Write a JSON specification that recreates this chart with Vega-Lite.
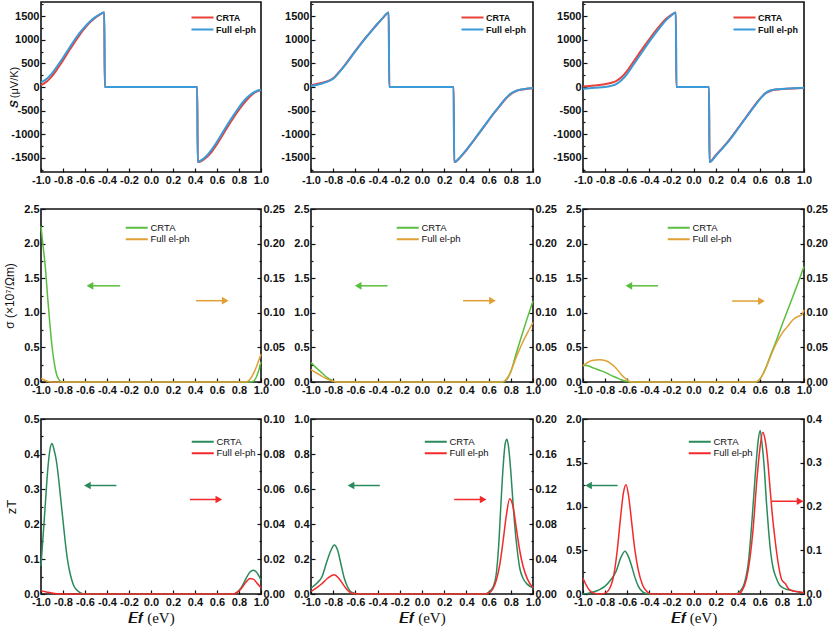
{
  "$schema": "https://vega.github.io/schema/vega-lite/v6.json",
  "background": "white",
  "padding": {"left": 2, "top": -3, "right": 0, "bottom": 0},
  "config": {
    "locale": {"number": {"decimal": ".", "thousands": ",", "grouping": [3], "currency": ["$", ""], "minus": "-"}},
    "view": {"stroke": "#111", "strokeWidth": 1.6},
    "axis": {
      "domain": false, "grid": false, "ticks": true, "tickSize": -4, "tickWidth": 1.2, "tickColor": "#111",
      "labelPadding": 6, "labelFont": "Liberation Sans", "labelFontSize": 11, "labelFontWeight": "bold",
      "labelColor": "#111", "labelFlush": false, "labelOverlap": false,
      "titleFont": "Liberation Sans", "titleFontWeight": "normal", "titleFontSize": 12, "titleColor": "#111"
    },
    "legend": {
      "symbolType": "M-10,0H1", "symbolSize": 16, "symbolStrokeWidth": 2, "labelOffset": 0,
      "labelFont": "Liberation Sans", "labelFontSize": 9.5, "labelColor": "#111", "rowPadding": 0.5, "padding": 0
    }
  },
  "datasets": {
    "s": [
      {"p":"a","x":-1,"CRTA":40,"Full el-ph":100},{"p":"a","x":-0.95,"CRTA":110,"Full el-ph":170},{"p":"a","x":-0.9,"CRTA":230,"Full el-ph":290},
      {"p":"a","x":-0.85,"CRTA":390,"Full el-ph":450},{"p":"a","x":-0.8,"CRTA":560,"Full el-ph":620},{"p":"a","x":-0.75,"CRTA":750,"Full el-ph":800},
      {"p":"a","x":-0.7,"CRTA":930,"Full el-ph":980},{"p":"a","x":-0.65,"CRTA":1100,"Full el-ph":1140},{"p":"a","x":-0.6,"CRTA":1250,"Full el-ph":1280},
      {"p":"a","x":-0.55,"CRTA":1380,"Full el-ph":1400},{"p":"a","x":-0.5,"CRTA":1480,"Full el-ph":1490},{"p":"a","x":-0.45,"CRTA":1555,"Full el-ph":1560},
      {"p":"a","x":-0.425,"CRTA":1580,"Full el-ph":1585},{"p":"a","x":-0.42,"CRTA":0,"Full el-ph":0},{"p":"a","x":0.42,"CRTA":0,"Full el-ph":0},
      {"p":"a","x":0.425,"CRTA":-1590,"Full el-ph":-1590},{"p":"a","x":0.45,"CRTA":-1580,"Full el-ph":-1560},{"p":"a","x":0.5,"CRTA":-1500,"Full el-ph":-1470},
      {"p":"a","x":0.55,"CRTA":-1380,"Full el-ph":-1330},{"p":"a","x":0.6,"CRTA":-1210,"Full el-ph":-1160},{"p":"a","x":0.65,"CRTA":-1020,"Full el-ph":-970},
      {"p":"a","x":0.7,"CRTA":-830,"Full el-ph":-780},{"p":"a","x":0.75,"CRTA":-650,"Full el-ph":-600},{"p":"a","x":0.8,"CRTA":-480,"Full el-ph":-430},
      {"p":"a","x":0.85,"CRTA":-330,"Full el-ph":-280},{"p":"a","x":0.9,"CRTA":-200,"Full el-ph":-170},{"p":"a","x":0.95,"CRTA":-110,"Full el-ph":-95},
      {"p":"a","x":1,"CRTA":-65,"Full el-ph":-60},
      {"p":"b","x":-1,"CRTA":40,"Full el-ph":20},{"p":"b","x":-0.9,"CRTA":90,"Full el-ph":75},{"p":"b","x":-0.85,"CRTA":125,"Full el-ph":115},
      {"p":"b","x":-0.8,"CRTA":185,"Full el-ph":175},{"p":"b","x":-0.75,"CRTA":310,"Full el-ph":300},{"p":"b","x":-0.7,"CRTA":450,"Full el-ph":440},
      {"p":"b","x":-0.65,"CRTA":605,"Full el-ph":600},{"p":"b","x":-0.6,"CRTA":765,"Full el-ph":760},{"p":"b","x":-0.55,"CRTA":920,"Full el-ph":915},
      {"p":"b","x":-0.5,"CRTA":1065,"Full el-ph":1060},{"p":"b","x":-0.45,"CRTA":1205,"Full el-ph":1200},{"p":"b","x":-0.4,"CRTA":1340,"Full el-ph":1340},
      {"p":"b","x":-0.35,"CRTA":1470,"Full el-ph":1470},{"p":"b","x":-0.3,"CRTA":1580,"Full el-ph":1580},{"p":"b","x":-0.295,"CRTA":0,"Full el-ph":0},
      {"p":"b","x":0.285,"CRTA":0,"Full el-ph":0},{"p":"b","x":0.29,"CRTA":-1590,"Full el-ph":-1590},{"p":"b","x":0.35,"CRTA":-1475,"Full el-ph":-1470},
      {"p":"b","x":0.4,"CRTA":-1335,"Full el-ph":-1330},{"p":"b","x":0.45,"CRTA":-1185,"Full el-ph":-1180},{"p":"b","x":0.5,"CRTA":-1025,"Full el-ph":-1020},
      {"p":"b","x":0.55,"CRTA":-865,"Full el-ph":-860},{"p":"b","x":0.6,"CRTA":-705,"Full el-ph":-700},{"p":"b","x":0.65,"CRTA":-550,"Full el-ph":-545},
      {"p":"b","x":0.7,"CRTA":-405,"Full el-ph":-400},{"p":"b","x":0.75,"CRTA":-260,"Full el-ph":-250},{"p":"b","x":0.8,"CRTA":-150,"Full el-ph":-140},
      {"p":"b","x":0.85,"CRTA":-85,"Full el-ph":-80},{"p":"b","x":0.9,"CRTA":-55,"Full el-ph":-50},{"p":"b","x":0.95,"CRTA":-35,"Full el-ph":-30},
      {"p":"b","x":1,"CRTA":-25,"Full el-ph":-20},
      {"p":"c","x":-1,"CRTA":10,"Full el-ph":-40},{"p":"c","x":-0.9,"CRTA":30,"Full el-ph":-15},{"p":"c","x":-0.8,"CRTA":60,"Full el-ph":0},
      {"p":"c","x":-0.75,"CRTA":85,"Full el-ph":20},{"p":"c","x":-0.7,"CRTA":125,"Full el-ph":60},{"p":"c","x":-0.65,"CRTA":210,"Full el-ph":150},
      {"p":"c","x":-0.6,"CRTA":340,"Full el-ph":280},{"p":"c","x":-0.55,"CRTA":510,"Full el-ph":450},{"p":"c","x":-0.5,"CRTA":680,"Full el-ph":620},
      {"p":"c","x":-0.45,"CRTA":850,"Full el-ph":790},{"p":"c","x":-0.4,"CRTA":1010,"Full el-ph":960},{"p":"c","x":-0.35,"CRTA":1165,"Full el-ph":1120},
      {"p":"c","x":-0.3,"CRTA":1310,"Full el-ph":1270},{"p":"c","x":-0.25,"CRTA":1440,"Full el-ph":1410},{"p":"c","x":-0.2,"CRTA":1530,"Full el-ph":1515},
      {"p":"c","x":-0.16,"CRTA":1580,"Full el-ph":1580},{"p":"c","x":-0.155,"CRTA":0,"Full el-ph":0},{"p":"c","x":0.14,"CRTA":0,"Full el-ph":0},
      {"p":"c","x":0.145,"CRTA":-1590,"Full el-ph":-1590},{"p":"c","x":0.2,"CRTA":-1450,"Full el-ph":-1460},{"p":"c","x":0.25,"CRTA":-1320,"Full el-ph":-1330},
      {"p":"c","x":0.3,"CRTA":-1190,"Full el-ph":-1200},{"p":"c","x":0.35,"CRTA":-1040,"Full el-ph":-1050},{"p":"c","x":0.4,"CRTA":-880,"Full el-ph":-890},
      {"p":"c","x":0.45,"CRTA":-720,"Full el-ph":-730},{"p":"c","x":0.5,"CRTA":-560,"Full el-ph":-570},{"p":"c","x":0.55,"CRTA":-400,"Full el-ph":-410},
      {"p":"c","x":0.6,"CRTA":-250,"Full el-ph":-260},{"p":"c","x":0.65,"CRTA":-135,"Full el-ph":-135},{"p":"c","x":0.7,"CRTA":-80,"Full el-ph":-70},
      {"p":"c","x":0.75,"CRTA":-55,"Full el-ph":-50},{"p":"c","x":0.8,"CRTA":-45,"Full el-ph":-40},{"p":"c","x":0.9,"CRTA":-30,"Full el-ph":-28},
      {"p":"c","x":1,"CRTA":-20,"Full el-ph":-15}
    ],
    "g": [
      {"p":"a","x":-1,"c":2.25},{"p":"a","x":-0.98,"c":1.95},{"p":"a","x":-0.96,"c":1.65},{"p":"a","x":-0.94,"c":1.23},{"p":"a","x":-0.92,"c":0.85},
      {"p":"a","x":-0.9,"c":0.52},{"p":"a","x":-0.88,"c":0.28},{"p":"a","x":-0.86,"c":0.12},{"p":"a","x":-0.84,"c":0.04},{"p":"a","x":-0.82,"c":0.01},
      {"p":"a","x":-0.8,"c":0},{"p":"a","x":0.9,"c":0},{"p":"a","x":0.93,"c":0.01},{"p":"a","x":0.96,"c":0.08},{"p":"a","x":0.98,"c":0.17},{"p":"a","x":1,"c":0.29},
      {"p":"a","x":-1,"f":0.005},{"p":"a","x":-0.95,"f":0.0015},{"p":"a","x":-0.9,"f":0},{"p":"a","x":0.86,"f":0},{"p":"a","x":0.9,"f":0.004},
      {"p":"a","x":0.94,"f":0.015},{"p":"a","x":0.97,"f":0.027},{"p":"a","x":1,"f":0.04},
      {"p":"b","x":-1,"c":0.28},{"p":"b","x":-0.95,"c":0.2},{"p":"b","x":-0.9,"c":0.13},{"p":"b","x":-0.85,"c":0.06},{"p":"b","x":-0.8,"c":0.015},
      {"p":"b","x":-0.78,"c":0},{"p":"b","x":0.72,"c":0},{"p":"b","x":0.76,"c":0.03},{"p":"b","x":0.8,"c":0.15},{"p":"b","x":0.85,"c":0.42},
      {"p":"b","x":0.9,"c":0.68},{"p":"b","x":0.95,"c":0.93},{"p":"b","x":1,"c":1.17},
      {"p":"b","x":-1,"f":0.018},{"p":"b","x":-0.95,"f":0.013},{"p":"b","x":-0.9,"f":0.008},{"p":"b","x":-0.85,"f":0.004},{"p":"b","x":-0.8,"f":0.001},
      {"p":"b","x":-0.76,"f":0},{"p":"b","x":0.72,"f":0},{"p":"b","x":0.76,"f":0.004},{"p":"b","x":0.8,"f":0.015},{"p":"b","x":0.85,"f":0.036},
      {"p":"b","x":0.9,"f":0.055},{"p":"b","x":0.95,"f":0.071},{"p":"b","x":1,"f":0.086},
      {"p":"c","x":-1,"c":0.25},{"p":"c","x":-0.95,"c":0.23},{"p":"c","x":-0.9,"c":0.2},{"p":"c","x":-0.85,"c":0.17},{"p":"c","x":-0.8,"c":0.14},
      {"p":"c","x":-0.75,"c":0.1},{"p":"c","x":-0.7,"c":0.065},{"p":"c","x":-0.65,"c":0.03},{"p":"c","x":-0.6,"c":0.008},{"p":"c","x":-0.56,"c":0},
      {"p":"c","x":0.56,"c":0},{"p":"c","x":0.6,"c":0.04},{"p":"c","x":0.65,"c":0.19},{"p":"c","x":0.7,"c":0.4},{"p":"c","x":0.75,"c":0.6},
      {"p":"c","x":0.8,"c":0.82},{"p":"c","x":0.85,"c":1.03},{"p":"c","x":0.9,"c":1.24},{"p":"c","x":0.95,"c":1.45},{"p":"c","x":1,"c":1.67},
      {"p":"c","x":-1,"f":0.023},{"p":"c","x":-0.96,"f":0.028},{"p":"c","x":-0.92,"f":0.031},{"p":"c","x":-0.85,"f":0.032},{"p":"c","x":-0.8,"f":0.031},
      {"p":"c","x":-0.75,"f":0.027},{"p":"c","x":-0.7,"f":0.02},{"p":"c","x":-0.65,"f":0.01},{"p":"c","x":-0.6,"f":0.003},{"p":"c","x":-0.56,"f":0},
      {"p":"c","x":0.56,"f":0},{"p":"c","x":0.6,"f":0.004},{"p":"c","x":0.65,"f":0.018},{"p":"c","x":0.7,"f":0.038},{"p":"c","x":0.75,"f":0.056},
      {"p":"c","x":0.8,"f":0.07},{"p":"c","x":0.85,"f":0.08},{"p":"c","x":0.9,"f":0.09},{"p":"c","x":0.95,"f":0.095},{"p":"c","x":0.98,"f":0.097},
      {"p":"c","x":1,"f":0.104}
    ],
    "z": [
      {"p":"a","x":-1,"c":0.08},{"p":"a","x":-0.98,"c":0.17},{"p":"a","x":-0.96,"c":0.26},{"p":"a","x":-0.94,"c":0.35},{"p":"a","x":-0.92,"c":0.41},
      {"p":"a","x":-0.9,"c":0.43},{"p":"a","x":-0.88,"c":0.41},{"p":"a","x":-0.86,"c":0.38},{"p":"a","x":-0.84,"c":0.33},{"p":"a","x":-0.82,"c":0.27},
      {"p":"a","x":-0.8,"c":0.21},{"p":"a","x":-0.78,"c":0.15},{"p":"a","x":-0.76,"c":0.1},{"p":"a","x":-0.74,"c":0.065},{"p":"a","x":-0.72,"c":0.04},
      {"p":"a","x":-0.7,"c":0.022},{"p":"a","x":-0.67,"c":0.01},{"p":"a","x":-0.64,"c":0.003},{"p":"a","x":-0.6,"c":0},{"p":"a","x":0.74,"c":0},
      {"p":"a","x":0.78,"c":0.005},{"p":"a","x":0.82,"c":0.018},{"p":"a","x":0.86,"c":0.042},{"p":"a","x":0.9,"c":0.063},{"p":"a","x":0.93,"c":0.068},
      {"p":"a","x":0.96,"c":0.062},{"p":"a","x":1,"c":0.04},
      {"p":"a","x":-1,"f":0.0018},{"p":"a","x":-0.95,"f":0.0012},{"p":"a","x":-0.9,"f":0.0006},{"p":"a","x":-0.85,"f":0.0002},{"p":"a","x":-0.8,"f":0},
      {"p":"a","x":0.74,"f":0},{"p":"a","x":0.78,"f":0.0008},{"p":"a","x":0.82,"f":0.003},{"p":"a","x":0.86,"f":0.0065},{"p":"a","x":0.9,"f":0.0088},
      {"p":"a","x":0.93,"f":0.0085},{"p":"a","x":0.96,"f":0.0065},{"p":"a","x":1,"f":0.0035},
      {"p":"b","x":-1,"c":0.033},{"p":"b","x":-0.95,"c":0.06},{"p":"b","x":-0.9,"c":0.1},{"p":"b","x":-0.86,"c":0.18},{"p":"b","x":-0.82,"c":0.25},
      {"p":"b","x":-0.79,"c":0.28},{"p":"b","x":-0.76,"c":0.25},{"p":"b","x":-0.73,"c":0.17},{"p":"b","x":-0.7,"c":0.09},{"p":"b","x":-0.67,"c":0.04},
      {"p":"b","x":-0.64,"c":0.013},{"p":"b","x":-0.6,"c":0.003},{"p":"b","x":-0.56,"c":0},{"p":"b","x":0.56,"c":0},{"p":"b","x":0.6,"c":0.01},
      {"p":"b","x":0.64,"c":0.04},{"p":"b","x":0.67,"c":0.12},{"p":"b","x":0.69,"c":0.27},{"p":"b","x":0.71,"c":0.5},{"p":"b","x":0.73,"c":0.72},
      {"p":"b","x":0.75,"c":0.86},{"p":"b","x":0.765,"c":0.885},{"p":"b","x":0.78,"c":0.84},{"p":"b","x":0.8,"c":0.7},{"p":"b","x":0.82,"c":0.52},
      {"p":"b","x":0.84,"c":0.36},{"p":"b","x":0.86,"c":0.24},{"p":"b","x":0.88,"c":0.15},{"p":"b","x":0.91,"c":0.09},{"p":"b","x":0.95,"c":0.055},
      {"p":"b","x":1,"c":0.035},
      {"p":"b","x":-1,"f":0.003},{"p":"b","x":-0.95,"f":0.007},{"p":"b","x":-0.9,"f":0.012},{"p":"b","x":-0.85,"f":0.018},{"p":"b","x":-0.79,"f":0.022},
      {"p":"b","x":-0.75,"f":0.018},{"p":"b","x":-0.7,"f":0.009},{"p":"b","x":-0.66,"f":0.003},{"p":"b","x":-0.62,"f":0.0005},{"p":"b","x":-0.58,"f":0},
      {"p":"b","x":0.56,"f":0},{"p":"b","x":0.6,"f":0.001},{"p":"b","x":0.64,"f":0.006},{"p":"b","x":0.67,"f":0.016},{"p":"b","x":0.7,"f":0.033},
      {"p":"b","x":0.73,"f":0.06},{"p":"b","x":0.76,"f":0.09},{"p":"b","x":0.79,"f":0.109},{"p":"b","x":0.82,"f":0.1},{"p":"b","x":0.85,"f":0.075},
      {"p":"b","x":0.88,"f":0.05},{"p":"b","x":0.91,"f":0.032},{"p":"b","x":0.95,"f":0.017},{"p":"b","x":1,"f":0.007},
      {"p":"c","x":-1,"c":0},{"p":"c","x":-0.95,"c":0.01},{"p":"c","x":-0.9,"c":0.025},{"p":"c","x":-0.85,"c":0.05},{"p":"c","x":-0.8,"c":0.09},
      {"p":"c","x":-0.75,"c":0.16},{"p":"c","x":-0.7,"c":0.26},{"p":"c","x":-0.66,"c":0.41},{"p":"c","x":-0.62,"c":0.49},{"p":"c","x":-0.59,"c":0.43},
      {"p":"c","x":-0.56,"c":0.32},{"p":"c","x":-0.53,"c":0.19},{"p":"c","x":-0.5,"c":0.09},{"p":"c","x":-0.46,"c":0.025},{"p":"c","x":-0.42,"c":0.004},
      {"p":"c","x":-0.38,"c":0},{"p":"c","x":0.38,"c":0},{"p":"c","x":0.42,"c":0.03},{"p":"c","x":0.46,"c":0.12},{"p":"c","x":0.5,"c":0.4},
      {"p":"c","x":0.53,"c":0.85},{"p":"c","x":0.56,"c":1.38},{"p":"c","x":0.585,"c":1.75},{"p":"c","x":0.603,"c":1.87},{"p":"c","x":0.62,"c":1.72},
      {"p":"c","x":0.64,"c":1.45},{"p":"c","x":0.66,"c":1.05},{"p":"c","x":0.68,"c":0.72},{"p":"c","x":0.7,"c":0.46},{"p":"c","x":0.72,"c":0.3},
      {"p":"c","x":0.75,"c":0.18},{"p":"c","x":0.78,"c":0.1},{"p":"c","x":0.82,"c":0.065},{"p":"c","x":0.87,"c":0.045},{"p":"c","x":0.92,"c":0.03},
      {"p":"c","x":0.96,"c":0.02},{"p":"c","x":1,"c":0.012},
      {"p":"c","x":-1,"f":0.036},{"p":"c","x":-0.97,"f":0.02},{"p":"c","x":-0.94,"f":0.008},{"p":"c","x":-0.9,"f":0.002},{"p":"c","x":-0.86,"f":0},
      {"p":"c","x":-0.8,"f":0.002},{"p":"c","x":-0.76,"f":0.012},{"p":"c","x":-0.72,"f":0.045},{"p":"c","x":-0.69,"f":0.1},{"p":"c","x":-0.66,"f":0.175},
      {"p":"c","x":-0.635,"f":0.23},{"p":"c","x":-0.61,"f":0.25},{"p":"c","x":-0.585,"f":0.22},{"p":"c","x":-0.56,"f":0.165},{"p":"c","x":-0.53,"f":0.1},
      {"p":"c","x":-0.5,"f":0.055},{"p":"c","x":-0.46,"f":0.02},{"p":"c","x":-0.42,"f":0.005},{"p":"c","x":-0.38,"f":0},{"p":"c","x":0.4,"f":0},
      {"p":"c","x":0.44,"f":0.008},{"p":"c","x":0.48,"f":0.035},{"p":"c","x":0.51,"f":0.08},{"p":"c","x":0.54,"f":0.15},{"p":"c","x":0.57,"f":0.25},
      {"p":"c","x":0.6,"f":0.33},{"p":"c","x":0.627,"f":0.37},{"p":"c","x":0.65,"f":0.35},{"p":"c","x":0.67,"f":0.31},{"p":"c","x":0.69,"f":0.25},
      {"p":"c","x":0.71,"f":0.19},{"p":"c","x":0.74,"f":0.12},{"p":"c","x":0.77,"f":0.065},{"p":"c","x":0.8,"f":0.032},{"p":"c","x":0.83,"f":0.024},
      {"p":"c","x":0.86,"f":0.012},{"p":"c","x":0.9,"f":0.007},{"p":"c","x":0.95,"f":0.005},{"p":"c","x":1,"f":0.003}
    ]
  },
  "vconcat": [
    {
      "hconcat": [
        {
          "width": 220, "height": 170,
          "data": {"name": "s"},
          "transform": [{"filter": "datum.p == 'a'"}, {"fold": ["CRTA", "Full el-ph"], "as": ["series", "S"]}],
          "mark": {"type": "line", "interpolate": "monotone", "strokeWidth": 2},
          "encoding": {
            "x": {"field": "x", "type": "quantitative", "scale": {"domain": [-1, 1]}, "axis": {"values": [-1, -0.8, -0.6, -0.4, -0.2, 0, 0.2, 0.4, 0.6, 0.8, 1], "format": ".1f", "title": null}},
            "y": {"field": "S", "type": "quantitative", "scale": {"domain": [-1800, 1800]},
              "axis": {"title": "𝑺  (μV/K)", "titleFontSize": 11, "minExtent": 20, "maxExtent": 20, "titlePadding": 2,
                "values": [-1750, -1500, -1250, -1000, -750, -500, -250, 0, 250, 500, 750, 1000, 1250, 1500, 1750], "format": "d",
                "labelExpr": "datum.value % 500 == 0 ? datum.label : ''",
                "tickSize": {"condition": {"test": "datum.value % 500 == 0", "value": -4}, "value": -2}}},
            "color": {"field": "series", "type": "nominal", "scale": {"domain": ["CRTA", "Full el-ph"], "range": ["#e8413a", "#3b9ad8"]},
              "legend": {"orient": "none", "legendX": 166, "legendY": 11, "title": null, "labelFontWeight": "bold", "labelFontSize": 9, "rowPadding": 2}}
          }
        },
        {
          "width": 222, "height": 170,
          "data": {"name": "s"},
          "transform": [{"filter": "datum.p == 'b'"}, {"fold": ["CRTA", "Full el-ph"], "as": ["series", "S"]}],
          "mark": {"type": "line", "interpolate": "monotone", "strokeWidth": 2},
          "encoding": {
            "x": {"field": "x", "type": "quantitative", "scale": {"domain": [-1, 1]}, "axis": {"values": [-1, -0.8, -0.6, -0.4, -0.2, 0, 0.2, 0.4, 0.6, 0.8, 1], "format": ".1f", "title": null}},
            "y": {"field": "S", "type": "quantitative", "scale": {"domain": [-1800, 1800]},
              "axis": {"title": null,
                "values": [-1750, -1500, -1250, -1000, -750, -500, -250, 0, 250, 500, 750, 1000, 1250, 1500, 1750], "format": "d",
                "labelExpr": "datum.value % 500 == 0 ? datum.label : ''",
                "tickSize": {"condition": {"test": "datum.value % 500 == 0", "value": -4}, "value": -2}}},
            "color": {"field": "series", "type": "nominal", "scale": {"domain": ["CRTA", "Full el-ph"], "range": ["#e8413a", "#3b9ad8"]},
              "legend": {"orient": "none", "legendX": 166, "legendY": 11, "title": null, "labelFontWeight": "bold", "labelFontSize": 9, "rowPadding": 2}}
          }
        },
        {
          "width": 221, "height": 170,
          "data": {"name": "s"},
          "transform": [{"filter": "datum.p == 'c'"}, {"fold": ["CRTA", "Full el-ph"], "as": ["series", "S"]}],
          "mark": {"type": "line", "interpolate": "monotone", "strokeWidth": 2},
          "encoding": {
            "x": {"field": "x", "type": "quantitative", "scale": {"domain": [-1, 1]}, "axis": {"values": [-1, -0.8, -0.6, -0.4, -0.2, 0, 0.2, 0.4, 0.6, 0.8, 1], "format": ".1f", "title": null}},
            "y": {"field": "S", "type": "quantitative", "scale": {"domain": [-1800, 1800]},
              "axis": {"title": null,
                "values": [-1750, -1500, -1250, -1000, -750, -500, -250, 0, 250, 500, 750, 1000, 1250, 1500, 1750], "format": "d",
                "labelExpr": "datum.value % 500 == 0 ? datum.label : ''",
                "tickSize": {"condition": {"test": "datum.value % 500 == 0", "value": -4}, "value": -2}}},
            "color": {"field": "series", "type": "nominal", "scale": {"domain": ["CRTA", "Full el-ph"], "range": ["#e8413a", "#3b9ad8"]},
              "legend": {"orient": "none", "legendX": 166, "legendY": 11, "title": null, "labelFontWeight": "bold", "labelFontSize": 9, "rowPadding": 2}}
          }
        }
      ],
      "spacing": 50, "bounds": "flush",
      "resolve": {"scale": {"color": "independent"}, "legend": {"color": "independent"}}
    },
    {
      "hconcat": [
        {
          "width": 220, "height": 173,
          "data": {"name": "g"},
          "transform": [{"filter": "datum.p == 'a'"}],
          "encoding": {"x": {"field": "x", "type": "quantitative", "scale": {"domain": [-1, 1]}, "axis": {"values": [-1, -0.8, -0.6, -0.4, -0.2, 0, 0.2, 0.4, 0.6, 0.8, 1], "format": ".1f", "title": null}}},
          "layer": [
            {
              "encoding": {"y": {"field": "c", "type": "quantitative", "scale": {"domain": [0, 2.5]},
                "axis": {"title": "σ  (×10⁷/Ωm)", "minExtent": 22, "maxExtent": 22, "titlePadding": 3,
                  "values": [0, 0.25, 0.5, 0.75, 1, 1.25, 1.5, 1.75, 2, 2.25, 2.5], "format": ".1f",
                  "labelExpr": "abs(datum.value*2-round(datum.value*2)) < 0.001 ? datum.label : ''",
                  "tickSize": {"condition": {"test": "abs(datum.value*2-round(datum.value*2)) < 0.001", "value": -4}, "value": -2}}}},
              "layer": [
                {"transform": [{"filter": {"field": "c", "valid": true}}], "mark": {"type": "line", "interpolate": "monotone", "strokeWidth": 1.5},
                  "encoding": {"color": {"datum": "CRTA", "scale": {"domain": ["CRTA", "Full el-ph"], "range": ["#5bbd40", "#e0a035"]},
                    "legend": {"orient": "none", "legendX": 100, "legendY": 14, "title": null}}}},
                {"data": {"values": [{"p": "a", "x": -0.555, "t": -0.28, "c": 1.39}]}, "mark": {"type": "rule", "color": "#5bbd40", "strokeWidth": 1.5}, "encoding": {"x2": {"field": "t"}}},
                {"data": {"values": [{"p": "a", "x": -0.555, "c": 1.39}]}, "mark": {"type": "point", "shape": "triangle-left", "filled": true, "size": 60, "color": "#5bbd40", "opacity": 1}}
              ]
            },
            {
              "encoding": {"y": {"field": "f", "type": "quantitative", "scale": {"domain": [0, 0.25]},
                "axis": {"orient": "right", "title": null,
                  "values": [0, 0.025, 0.05, 0.075, 0.1, 0.125, 0.15, 0.175, 0.2, 0.225, 0.25], "format": ".2f",
                  "labelExpr": "abs(datum.value*20-round(datum.value*20)) < 0.001 ? datum.label : ''",
                  "tickSize": {"condition": {"test": "abs(datum.value*20-round(datum.value*20)) < 0.001", "value": -4}, "value": -2}}}},
              "layer": [
                {"transform": [{"filter": {"field": "f", "valid": true}}], "mark": {"type": "line", "interpolate": "monotone", "strokeWidth": 1.5},
                  "encoding": {"color": {"datum": "Full el-ph"}}},
                {"data": {"values": [{"p": "a", "x": 0.675, "t": 0.41, "f": 0.1175}]}, "mark": {"type": "rule", "color": "#e0a035", "strokeWidth": 1.5}, "encoding": {"x2": {"field": "t"}}},
                {"data": {"values": [{"p": "a", "x": 0.675, "f": 0.1175}]}, "mark": {"type": "point", "shape": "triangle-right", "filled": true, "size": 60, "color": "#e0a035", "opacity": 1}}
              ]
            }
          ],
          "resolve": {"scale": {"y": "independent"}}
        },
        {
          "width": 222, "height": 173,
          "data": {"name": "g"},
          "transform": [{"filter": "datum.p == 'b'"}],
          "encoding": {"x": {"field": "x", "type": "quantitative", "scale": {"domain": [-1, 1]}, "axis": {"values": [-1, -0.8, -0.6, -0.4, -0.2, 0, 0.2, 0.4, 0.6, 0.8, 1], "format": ".1f", "title": null}}},
          "layer": [
            {
              "encoding": {"y": {"field": "c", "type": "quantitative", "scale": {"domain": [0, 2.5]},
                "axis": {"title": null,
                  "values": [0, 0.25, 0.5, 0.75, 1, 1.25, 1.5, 1.75, 2, 2.25, 2.5], "format": ".1f",
                  "labelExpr": "abs(datum.value*2-round(datum.value*2)) < 0.001 ? datum.label : ''",
                  "tickSize": {"condition": {"test": "abs(datum.value*2-round(datum.value*2)) < 0.001", "value": -4}, "value": -2}}}},
              "layer": [
                {"transform": [{"filter": {"field": "c", "valid": true}}], "mark": {"type": "line", "interpolate": "monotone", "strokeWidth": 1.5},
                  "encoding": {"color": {"datum": "CRTA", "scale": {"domain": ["CRTA", "Full el-ph"], "range": ["#5bbd40", "#e0a035"]},
                    "legend": {"orient": "none", "legendX": 101, "legendY": 14, "title": null}}}},
                {"data": {"values": [{"p": "b", "x": -0.575, "t": -0.31, "c": 1.39}]}, "mark": {"type": "rule", "color": "#5bbd40", "strokeWidth": 1.5}, "encoding": {"x2": {"field": "t"}}},
                {"data": {"values": [{"p": "b", "x": -0.575, "c": 1.39}]}, "mark": {"type": "point", "shape": "triangle-left", "filled": true, "size": 60, "color": "#5bbd40", "opacity": 1}}
              ]
            },
            {
              "encoding": {"y": {"field": "f", "type": "quantitative", "scale": {"domain": [0, 0.25]},
                "axis": {"orient": "right", "title": null,
                  "values": [0, 0.025, 0.05, 0.075, 0.1, 0.125, 0.15, 0.175, 0.2, 0.225, 0.25], "format": ".2f",
                  "labelExpr": "abs(datum.value*20-round(datum.value*20)) < 0.001 ? datum.label : ''",
                  "tickSize": {"condition": {"test": "abs(datum.value*20-round(datum.value*20)) < 0.001", "value": -4}, "value": -2}}}},
              "layer": [
                {"transform": [{"filter": {"field": "f", "valid": true}}], "mark": {"type": "line", "interpolate": "monotone", "strokeWidth": 1.5},
                  "encoding": {"color": {"datum": "Full el-ph"}}},
                {"data": {"values": [{"p": "b", "x": 0.635, "t": 0.37, "f": 0.1175}]}, "mark": {"type": "rule", "color": "#e0a035", "strokeWidth": 1.5}, "encoding": {"x2": {"field": "t"}}},
                {"data": {"values": [{"p": "b", "x": 0.635, "f": 0.1175}]}, "mark": {"type": "point", "shape": "triangle-right", "filled": true, "size": 60, "color": "#e0a035", "opacity": 1}}
              ]
            }
          ],
          "resolve": {"scale": {"y": "independent"}}
        },
        {
          "width": 221, "height": 173,
          "data": {"name": "g"},
          "transform": [{"filter": "datum.p == 'c'"}],
          "encoding": {"x": {"field": "x", "type": "quantitative", "scale": {"domain": [-1, 1]}, "axis": {"values": [-1, -0.8, -0.6, -0.4, -0.2, 0, 0.2, 0.4, 0.6, 0.8, 1], "format": ".1f", "title": null}}},
          "layer": [
            {
              "encoding": {"y": {"field": "c", "type": "quantitative", "scale": {"domain": [0, 2.5]},
                "axis": {"title": null,
                  "values": [0, 0.25, 0.5, 0.75, 1, 1.25, 1.5, 1.75, 2, 2.25, 2.5], "format": ".1f",
                  "labelExpr": "abs(datum.value*2-round(datum.value*2)) < 0.001 ? datum.label : ''",
                  "tickSize": {"condition": {"test": "abs(datum.value*2-round(datum.value*2)) < 0.001", "value": -4}, "value": -2}}}},
              "layer": [
                {"transform": [{"filter": {"field": "c", "valid": true}}], "mark": {"type": "line", "interpolate": "monotone", "strokeWidth": 1.5},
                  "encoding": {"color": {"datum": "CRTA", "scale": {"domain": ["CRTA", "Full el-ph"], "range": ["#5bbd40", "#e0a035"]},
                    "legend": {"orient": "none", "legendX": 100, "legendY": 14, "title": null}}}},
                {"data": {"values": [{"p": "c", "x": -0.585, "t": -0.32, "c": 1.39}]}, "mark": {"type": "rule", "color": "#5bbd40", "strokeWidth": 1.5}, "encoding": {"x2": {"field": "t"}}},
                {"data": {"values": [{"p": "c", "x": -0.585, "c": 1.39}]}, "mark": {"type": "point", "shape": "triangle-left", "filled": true, "size": 60, "color": "#5bbd40", "opacity": 1}}
              ]
            },
            {
              "encoding": {"y": {"field": "f", "type": "quantitative", "scale": {"domain": [0, 0.25]},
                "axis": {"orient": "right", "title": null,
                  "values": [0, 0.025, 0.05, 0.075, 0.1, 0.125, 0.15, 0.175, 0.2, 0.225, 0.25], "format": ".2f",
                  "labelExpr": "abs(datum.value*20-round(datum.value*20)) < 0.001 ? datum.label : ''",
                  "tickSize": {"condition": {"test": "abs(datum.value*20-round(datum.value*20)) < 0.001", "value": -4}, "value": -2}}}},
              "layer": [
                {"transform": [{"filter": {"field": "f", "valid": true}}], "mark": {"type": "line", "interpolate": "monotone", "strokeWidth": 1.5},
                  "encoding": {"color": {"datum": "Full el-ph"}}},
                {"data": {"values": [{"p": "c", "x": 0.615, "t": 0.35, "f": 0.117}]}, "mark": {"type": "rule", "color": "#e0a035", "strokeWidth": 1.5}, "encoding": {"x2": {"field": "t"}}},
                {"data": {"values": [{"p": "c", "x": 0.615, "f": 0.117}]}, "mark": {"type": "point", "shape": "triangle-right", "filled": true, "size": 60, "color": "#e0a035", "opacity": 1}}
              ]
            }
          ],
          "resolve": {"scale": {"y": "independent"}}
        }
      ],
      "spacing": 50, "bounds": "flush",
      "resolve": {"scale": {"color": "independent"}, "legend": {"color": "independent"}}
    },
    {
      "hconcat": [
        {
          "width": 220, "height": 175,
          "data": {"name": "z"},
          "transform": [{"filter": "datum.p == 'a'"}],
          "encoding": {"x": {"field": "x", "type": "quantitative", "scale": {"domain": [-1, 1]}, "axis": {"values": [-1, -0.8, -0.6, -0.4, -0.2, 0, 0.2, 0.4, 0.6, 0.8, 1], "format": ".1f", "title": "𝑬𝒇  (eV)", "titleFont": "Liberation Serif", "titleFontSize": 15, "titlePadding": 3}}},
          "layer": [
            {
              "encoding": {"y": {"field": "c", "type": "quantitative", "scale": {"domain": [0, 0.5]},
                "axis": {"title": "zT", "titleFontSize": 13, "minExtent": 20, "maxExtent": 20, "titlePadding": 3,
                  "values": [0, 0.05, 0.1, 0.15, 0.2, 0.25, 0.3, 0.35, 0.4, 0.45, 0.5], "format": ".1f",
                  "labelExpr": "abs(datum.value*10-round(datum.value*10)) < 0.001 ? datum.label : ''",
                  "tickSize": {"condition": {"test": "abs(datum.value*10-round(datum.value*10)) < 0.001", "value": -4}, "value": -2}}}},
              "layer": [
                {"transform": [{"filter": {"field": "c", "valid": true}}], "mark": {"type": "line", "interpolate": "monotone", "strokeWidth": 1.5},
                  "encoding": {"color": {"datum": "CRTA", "scale": {"domain": ["CRTA", "Full el-ph"], "range": ["#2b8a5c", "#f22a2a"]},
                    "legend": {"orient": "none", "legendX": 166, "legendY": 18, "title": null}}}},
                {"data": {"values": [{"p": "a", "x": -0.578, "t": -0.315, "c": 0.31}]}, "mark": {"type": "rule", "color": "#2b8a5c", "strokeWidth": 1.5}, "encoding": {"x2": {"field": "t"}}},
                {"data": {"values": [{"p": "a", "x": -0.578, "c": 0.31}]}, "mark": {"type": "point", "shape": "triangle-left", "filled": true, "size": 60, "color": "#2b8a5c", "opacity": 1}}
              ]
            },
            {
              "encoding": {"y": {"field": "f", "type": "quantitative", "scale": {"domain": [0, 0.1]},
                "axis": {"orient": "right", "title": null,
                  "values": [0, 0.01, 0.02, 0.03, 0.04, 0.05, 0.06, 0.07, 0.08, 0.09, 0.1], "format": ".2f",
                  "labelExpr": "abs(datum.value*50-round(datum.value*50)) < 0.001 ? datum.label : ''",
                  "tickSize": {"condition": {"test": "abs(datum.value*50-round(datum.value*50)) < 0.001", "value": -4}, "value": -2}}}},
              "layer": [
                {"transform": [{"filter": {"field": "f", "valid": true}}], "mark": {"type": "line", "interpolate": "monotone", "strokeWidth": 1.5},
                  "encoding": {"color": {"datum": "Full el-ph"}}},
                {"data": {"values": [{"p": "a", "x": 0.617, "t": 0.354, "f": 0.054}]}, "mark": {"type": "rule", "color": "#f22a2a", "strokeWidth": 1.5}, "encoding": {"x2": {"field": "t"}}},
                {"data": {"values": [{"p": "a", "x": 0.617, "f": 0.054}]}, "mark": {"type": "point", "shape": "triangle-right", "filled": true, "size": 60, "color": "#f22a2a", "opacity": 1}}
              ]
            }
          ],
          "resolve": {"scale": {"y": "independent"}}
        },
        {
          "width": 222, "height": 175,
          "data": {"name": "z"},
          "transform": [{"filter": "datum.p == 'b'"}],
          "encoding": {"x": {"field": "x", "type": "quantitative", "scale": {"domain": [-1, 1]}, "axis": {"values": [-1, -0.8, -0.6, -0.4, -0.2, 0, 0.2, 0.4, 0.6, 0.8, 1], "format": ".1f", "title": "𝑬𝒇  (eV)", "titleFont": "Liberation Serif", "titleFontSize": 15, "titlePadding": 3}}},
          "layer": [
            {
              "encoding": {"y": {"field": "c", "type": "quantitative", "scale": {"domain": [0, 1]},
                "axis": {"title": null,
                  "values": [0, 0.1, 0.2, 0.3, 0.4, 0.5, 0.6, 0.7, 0.8, 0.9, 1], "format": ".1f",
                  "labelExpr": "abs(datum.value*5-round(datum.value*5)) < 0.001 ? datum.label : ''",
                  "tickSize": {"condition": {"test": "abs(datum.value*5-round(datum.value*5)) < 0.001", "value": -4}, "value": -2}}}},
              "layer": [
                {"transform": [{"filter": {"field": "c", "valid": true}}], "mark": {"type": "line", "interpolate": "monotone", "strokeWidth": 1.5},
                  "encoding": {"color": {"datum": "CRTA", "scale": {"domain": ["CRTA", "Full el-ph"], "range": ["#2b8a5c", "#f22a2a"]},
                    "legend": {"orient": "none", "legendX": 129, "legendY": 18, "title": null}}}},
                {"data": {"values": [{"p": "b", "x": -0.64, "t": -0.38, "c": 0.62}]}, "mark": {"type": "rule", "color": "#2b8a5c", "strokeWidth": 1.5}, "encoding": {"x2": {"field": "t"}}},
                {"data": {"values": [{"p": "b", "x": -0.64, "c": 0.62}]}, "mark": {"type": "point", "shape": "triangle-left", "filled": true, "size": 60, "color": "#2b8a5c", "opacity": 1}}
              ]
            },
            {
              "encoding": {"y": {"field": "f", "type": "quantitative", "scale": {"domain": [0, 0.2]},
                "axis": {"orient": "right", "title": null,
                  "values": [0, 0.02, 0.04, 0.06, 0.08, 0.1, 0.12, 0.14, 0.16, 0.18, 0.2], "format": ".2f",
                  "labelExpr": "abs(datum.value*25-round(datum.value*25)) < 0.001 ? datum.label : ''",
                  "tickSize": {"condition": {"test": "abs(datum.value*25-round(datum.value*25)) < 0.001", "value": -4}, "value": -2}}}},
              "layer": [
                {"transform": [{"filter": {"field": "f", "valid": true}}], "mark": {"type": "line", "interpolate": "monotone", "strokeWidth": 1.5},
                  "encoding": {"color": {"datum": "Full el-ph"}}},
                {"data": {"values": [{"p": "b", "x": 0.551, "t": 0.29, "f": 0.108}]}, "mark": {"type": "rule", "color": "#f22a2a", "strokeWidth": 1.5}, "encoding": {"x2": {"field": "t"}}},
                {"data": {"values": [{"p": "b", "x": 0.551, "f": 0.108}]}, "mark": {"type": "point", "shape": "triangle-right", "filled": true, "size": 60, "color": "#f22a2a", "opacity": 1}}
              ]
            }
          ],
          "resolve": {"scale": {"y": "independent"}}
        },
        {
          "width": 221, "height": 175,
          "data": {"name": "z"},
          "transform": [{"filter": "datum.p == 'c'"}],
          "encoding": {"x": {"field": "x", "type": "quantitative", "scale": {"domain": [-1, 1]}, "axis": {"values": [-1, -0.8, -0.6, -0.4, -0.2, 0, 0.2, 0.4, 0.6, 0.8, 1], "format": ".1f", "title": "𝑬𝒇  (eV)", "titleFont": "Liberation Serif", "titleFontSize": 15, "titlePadding": 3}}},
          "layer": [
            {
              "encoding": {"y": {"field": "c", "type": "quantitative", "scale": {"domain": [0, 2]},
                "axis": {"title": null,
                  "values": [0, 0.25, 0.5, 0.75, 1, 1.25, 1.5, 1.75, 2], "format": ".1f",
                  "labelExpr": "abs(datum.value*2-round(datum.value*2)) < 0.001 ? datum.label : ''",
                  "tickSize": {"condition": {"test": "abs(datum.value*2-round(datum.value*2)) < 0.001", "value": -4}, "value": -2}}}},
              "layer": [
                {"transform": [{"filter": {"field": "c", "valid": true}}], "mark": {"type": "line", "interpolate": "monotone", "strokeWidth": 1.5},
                  "encoding": {"color": {"datum": "CRTA", "scale": {"domain": ["CRTA", "Full el-ph"], "range": ["#2b8a5c", "#f22a2a"]},
                    "legend": {"orient": "none", "legendX": 121, "legendY": 18, "title": null}}}},
                {"data": {"values": [{"p": "c", "x": -0.95, "t": -0.687, "c": 1.24}]}, "mark": {"type": "rule", "color": "#2b8a5c", "strokeWidth": 1.5}, "encoding": {"x2": {"field": "t"}}},
                {"data": {"values": [{"p": "c", "x": -0.95, "c": 1.24}]}, "mark": {"type": "point", "shape": "triangle-left", "filled": true, "size": 60, "color": "#2b8a5c", "opacity": 1}}
              ]
            },
            {
              "encoding": {"y": {"field": "f", "type": "quantitative", "scale": {"domain": [0, 0.4]},
                "axis": {"orient": "right", "title": null,
                  "values": [0, 0.05, 0.1, 0.15, 0.2, 0.25, 0.3, 0.35, 0.4], "format": ".1f",
                  "labelExpr": "abs(datum.value*10-round(datum.value*10)) < 0.001 ? datum.label : ''",
                  "tickSize": {"condition": {"test": "abs(datum.value*10-round(datum.value*10)) < 0.001", "value": -4}, "value": -2}}}},
              "layer": [
                {"transform": [{"filter": {"field": "f", "valid": true}}], "mark": {"type": "line", "interpolate": "monotone", "strokeWidth": 1.5},
                  "encoding": {"color": {"datum": "Full el-ph"}}},
                {"data": {"values": [{"p": "c", "x": 0.965, "t": 0.71, "f": 0.212}]}, "mark": {"type": "rule", "color": "#f22a2a", "strokeWidth": 1.5}, "encoding": {"x2": {"field": "t"}}},
                {"data": {"values": [{"p": "c", "x": 0.965, "f": 0.212}]}, "mark": {"type": "point", "shape": "triangle-right", "filled": true, "size": 60, "color": "#f22a2a", "opacity": 1}}
              ]
            }
          ],
          "resolve": {"scale": {"y": "independent"}}
        }
      ],
      "spacing": 50, "bounds": "flush",
      "resolve": {"scale": {"color": "independent"}, "legend": {"color": "independent"}}
    }
  ],
  "spacing": 16,
  "resolve": {"scale": {"color": "independent"}, "legend": {"color": "independent"}}
}
